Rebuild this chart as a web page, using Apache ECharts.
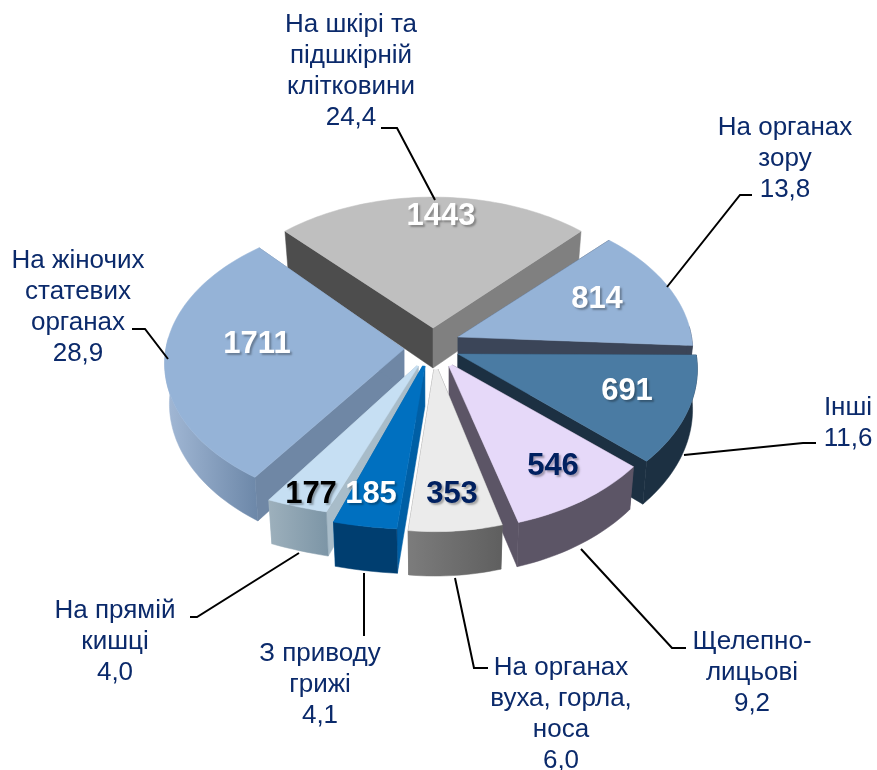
<!DOCTYPE html>
<html><head><meta charset="utf-8">
<style>html,body{margin:0;padding:0;background:#fff}#c{width:877px;height:770px}</style>
<script src="https://cdn.jsdelivr.net/npm/echarts@6/dist/echarts.min.js"></script>
</head><body><div id="c"></div>
<script>
const categories = ['На шкірі та\nпідшкірній\nклітковини','На органах\nзору','Інші','Щелепно-\nлицьові','На органах\nвуха, горла,\nноса','З приводу\nгрижі','На прямій\nкишці','На жіночих\nстатевих\nорганах'];
const counts = [1443,814,691,546,353,185,177,1711];
const percents = ['24,4','13,8','11,6','9,2','6,0','4,1','4,0','28,9'];
const pageNumber = '70';

// view settings
const view = {Rx:229, Ry:144, k:0.1, depth:40, bottomScale:0.98, step:1.5};
const drawOrder = [0,1,7,2,3,4,6,5];
const placement = [
 {ax:433,ay:328,rot:0, sx:1,   sy:1,   cut:0},
 {ax:458,ay:337,rot:0, sx:1.02,sy:1,   cut:0},
 {ax:458,ay:354,rot:-3,sx:1.04,sy:1.03,cut:0},
 {ax:447,ay:362,rot:-5,sx:1.0, sy:1.05,cut:0.03},
 {ax:435,ay:362,rot:-4,sx:1,   sy:1.06,cut:0.05},
 {ax:426,ay:360,rot:-5,sx:1.3, sy:1.06,cut:0.04},
 {ax:421,ay:362,rot:-5,sx:1.33,sy:0.98,cut:0.03},
 {ax:404,ay:349,rot:3, sx:1.04,sy:1,   cut:0}
];
const H = (a,b)=>new echarts.graphic.LinearGradient(0,0,1,0,[{offset:0,color:a},{offset:1,color:b}]);
const paint = [
 {top:'#bfbfbf',start:'#4d4d4d',end:'#808080',outer:'#808080',text:'#ffffff',tx:441,ty:216},
 {top:'#95b3d7',start:'#3b4558',end:'#3b4558',outer:'#3b4558',text:'#ffffff',tx:597,ty:299},
 {top:'#4a7ba3',start:'#1c3042',end:'#1c3042',outer:'#1c3042',text:'#ffffff',tx:627,ty:391},
 {top:'#e6d9f9',start:'#5c5566',end:'#5c5566',outer:'#5c5566',text:'#002060',tx:553,ty:466},
 {top:'#ebebeb',start:'#6a6a6a',end:'#6a6a6a',outer:H('#7c7c7c','#5f5f5f'),text:'#002060',tx:452,ty:494},
 {top:'#0070c0',start:'#005fa5',end:'#005fa5',outer:'#003e70',text:'#ffffff',tx:371,ty:494},
 {top:'#c6dff3',start:'#a8bcc9',end:'#a8bcc9',outer:H('#9db0bc','#7c95a6'),text:'#000000',tx:311,ty:494},
 {top:'#95b3d7',start:'#6f87a5',end:'#6f87a5',outer:H('#a3b9d6','#6c87a8'),text:'#ffffff',tx:257,ty:344}
];
const labelPlace = [
 {x:351,y:71.5},{x:785,y:159},{x:848,y:423},{x:752,y:673},{x:561,y:714},{x:320,y:685},{x:115,y:642},{x:78,y:307}
];
const leaders = [
 [[381,128],[397,128],[435,200]],
 [[752,195],[740,195],[667,287]],
 [[816,443],[803,443],[684,455]],
 [[686,648],[672,648],[581,549]],
 [[488,668],[474,668],[455,578]],
 [[364,573],[364,636]],
 [[190,617],[197,617],[299,553]],
 [[132,329],[145,329],[168,359]]
];
const textColor = '#0b2a6b';
const font = 'Liberation Sans, Arial, sans-serif';

const total = counts.reduce((a,b)=>a+b,0);
const bounds = []; let acc = -counts[0]/total*180;
counts.forEach(c=>{const s=acc; acc+=c/total*360; bounds.push([s,acc]);});

function proj(i,deg,r,low){
 const p=placement[i], a=(deg+p.rot)*Math.PI/180, u=r*Math.sin(a), v=r*Math.cos(a), w=1+view.k*v;
 return [p.ax+view.Rx*p.sx*u/w*(low?view.bottomScale:1), p.ay-view.Ry*p.sy*v/w+(low?view.depth/w:0)];
}
function arc(i,r,low,rev,frontOnly){
 const [s,e]=bounds[i], pts=[], n=Math.max(2,Math.ceil((e-s)/view.step));
 for(let j=0;j<=n;j++){
  const d=s+(e-s)*j/n;
  if(frontOnly && Math.cos((d+placement[i].rot)*Math.PI/180)>0.09) continue;
  pts.push(proj(i,d,r,low));
 }
 return rev?pts.reverse():pts;
}
function renderItem(params,api){
 const i=api.value(1), c=placement[i], st=paint[i], [s,e]=bounds[i], t=c.cut;
 const poly=(pts,fill)=>({type:'polygon',shape:{points:pts},style:{fill:fill,stroke:fill,lineWidth:0.5}});
 const wall=(deg,fill)=>poly([proj(i,deg,t,false),proj(i,deg,1,false),proj(i,deg,1,true),proj(i,deg,t,true)],fill);
 const front=arc(i,1,false,false,true), kids=[wall(s,st.start),wall(e,st.end)];
 if(front.length>1) kids.push(poly(front.concat(arc(i,1,true,true,true)),st.outer));
 kids.push(poly(arc(i,1,false,false).concat(t>0?arc(i,t,false,true):[proj(i,s,0,false)]),st.top));
 return {type:'group',children:kids};
}
const gfx = [];
categories.forEach((c,i)=>{
 gfx.push({type:'polyline',silent:true,z:20,shape:{points:leaders[i]},style:{stroke:'#000',lineWidth:2,fill:null}});
 gfx.push({type:'text',silent:true,z:21,style:{x:labelPlace[i].x,y:labelPlace[i].y,text:c+'\n'+percents[i],align:'center',verticalAlign:'middle',textAlign:'center',textVerticalAlign:'middle',font:'26px '+font,lineHeight:31,fill:textColor}});
});
counts.forEach((v,i)=>{
 gfx.push({type:'text',silent:true,z:22,style:{x:paint[i].tx,y:paint[i].ty,text:String(v),align:'center',verticalAlign:'middle',textAlign:'center',textVerticalAlign:'middle',font:'bold 31px '+font,fill:paint[i].text,textShadowColor:'rgba(0,0,0,0.3)',textShadowBlur:2,textShadowOffsetX:2,textShadowOffsetY:2}});
});
gfx.push({type:'text',silent:true,z:21,style:{x:770,y:781,text:pageNumber,textAlign:'center',textVerticalAlign:'middle',align:'center',verticalAlign:'middle',font:'26px '+font,fill:textColor}});

const chart = echarts.init(document.getElementById('c'),null,{renderer:'canvas'});
chart.setOption({
 animation:false, backgroundColor:'#ffffff',
 series:[{type:'custom',coordinateSystem:'none',silent:true,renderItem:renderItem,
  data:drawOrder.map(i=>[counts[i],i])}],
 graphic:{elements:gfx}
});
</script></body></html>
